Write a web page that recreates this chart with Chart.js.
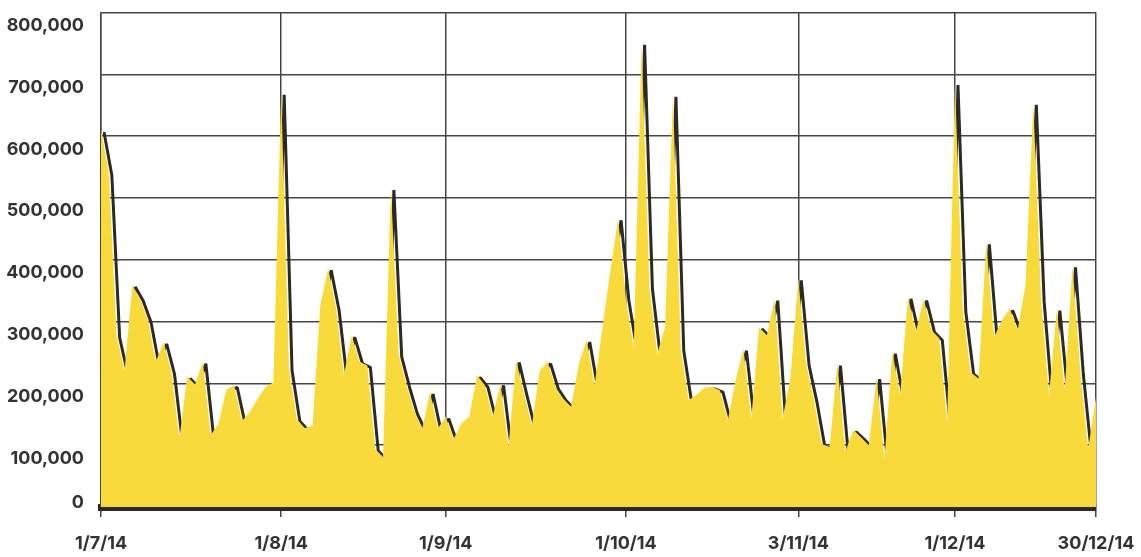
<!DOCTYPE html>
<html>
<head>
<meta charset="utf-8">
<script src="https://cdn.jsdelivr.net/npm/chart.js@4/dist/chart.umd.min.js"></script>
<style>
  html, body { margin: 0; padding: 0; background: #fff; }
  #wrap { position: relative; width: 1141px; height: 557px; }
</style>
</head>
<body>
<div id="wrap"><canvas id="myChart"></canvas></div>
<script>
// Daily values (one per trading day)
const values = [
    610000, 540000, 277000, 220000, 359000, 337000, 302000, 235000, 267000, 218000,
    110000, 211000, 198000, 235000, 116000, 135000, 190000, 197000, 139000, 154000,
    175000, 194000, 202000, 670000, 224000, 142000, 128000, 131000, 327000, 386000,
    322000, 213000, 278000, 235000, 229000, 94000, 81000, 516000, 246000, 197000,
    154000, 127000, 186000, 127000, 146000, 110000, 135000, 146000, 213000, 197000,
    146000, 200000, 97000, 237000, 183000, 132000, 221000, 235000, 194000, 175000,
    162000, 232000, 270000, 197000, 290000, 380000, 467000, 337000, 259000, 751000,
    356000, 248000, 291000, 667000, 256000, 173000, 181000, 193000, 194000, 189000,
    140000, 205000, 256000, 143000, 291000, 278000, 337000, 143000, 210000, 370000,
    232000, 173000, 102000, 97000, 232000, 89000, 125000, 113000, 100000, 210000,
    78000, 251000, 181000, 340000, 283000, 337000, 286000, 273000, 137000, 686000,
    319000, 218000, 208000, 428000, 275000, 302000, 321000, 286000, 359000, 654000,
    335000, 181000, 321000, 189000, 391000, 218000, 94000, 178000
];

// Dated ticks on the x axis and the point they sit on
const tickLabels = ['1/7/14', '1/8/14', '1/9/14', '1/10/14', '3/11/14', '1/12/14', '30/12/14'];
const tickIndex = [0, 23, 44, 67, 89, 109, 127];

// y axis
const yMax = 800000;
const yStep = 100000;

const labels = values.map(() => '');
tickIndex.forEach((idx, i) => { labels[idx] = tickLabels[i]; });

const YELLOW = '#f8da3a';
const DARK = '#2b2a28';
const GRID = '#464646';
const TEXT = '#333333';

// Shift the dark line a little right/down so it reads as a shadow,
// clipped to the plot so it does not stick out past the right edge
const shadowShift = {
    id: 'shadowShift',
    beforeDatasetDraw(chart, args) {
        if (args.index === 1) {
            const a = chart.chartArea;
            const c = chart.ctx;
            c.save();
            c.beginPath();
            c.rect(a.left, a.top - 20, a.right - a.left, a.bottom - a.top + 20);
            c.clip();
            c.translate(3, 2);
        }
    },
    afterDatasetDraw(chart, args) {
        if (args.index === 1) {
            chart.ctx.restore();
        }
    }
};

const ctx = document.getElementById('myChart').getContext('2d');
const myChart = new Chart(ctx, {
    type: 'line',
    data: {
        labels: labels,
        datasets: [
            {
                data: values,
                fill: 'origin',
                backgroundColor: YELLOW,
                borderColor: 'rgba(0,0,0,0)',
                borderWidth: 0,
                pointRadius: 0,
                tension: 0
            },
            {
                data: values,
                fill: false,
                borderColor: DARK,
                borderWidth: 3,
                borderJoinStyle: 'bevel',
                pointRadius: 0,
                tension: 0
            }
        ]
    },
    options: {
        responsive: true,
        maintainAspectRatio: false,
        animation: false,
        layout: { padding: { top: 12.5, right: 45, bottom: 0, left: 0 } },
        plugins: {
            legend: { display: false },
            tooltip: { enabled: false }
        },
        scales: {
            x: {
                type: 'category',
                offset: false,
                grid: {
                    color: c => labels[c.index] ? GRID : 'rgba(0,0,0,0)',
                    tickColor: c => labels[c.index] ? GRID : 'rgba(0,0,0,0)',
                    lineWidth: 1.5,
                    tickLength: 10
                },
                border: { color: DARK, width: 7 },
                ticks: {
                    autoSkip: false,
                    maxRotation: 0,
                    minRotation: 0,
                    padding: 15.5,
                    color: TEXT,
                    font: { family: 'Inter', size: 18, weight: 'bold' }
                },
                afterFit: function (scale) {
                    scale.height = 50;
                    scale.paddingLeft = 0;
                    scale.paddingRight = 0;
                }
            },
            y: {
                min: 0,
                max: yMax,
                grid: { color: GRID, lineWidth: 1.5, drawTicks: false },
                border: { color: GRID, width: 1.5 },
                ticks: {
                    stepSize: yStep,
                    autoSkip: false,
                    padding: 17,
                    labelOffset: 13,
                    color: TEXT,
                    font: { family: 'Inter', size: 18, weight: 'bold', lineHeight: 1.9 },
                    callback: function (value) {
                        if (value === 0) return ['0', ''];
                        return value.toLocaleString('en-US');
                    }
                },
                afterFit: function (scale) {
                    scale.width = 101;
                    scale.paddingTop = 0;
                    scale.paddingBottom = 0;
                }
            }
        }
    },
    plugins: [shadowShift]
});
</script>
</body>
</html>
